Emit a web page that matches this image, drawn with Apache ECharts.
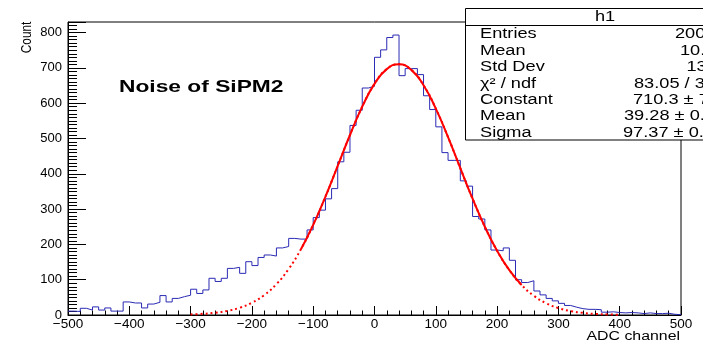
<!DOCTYPE html>
<html><head><meta charset="utf-8">
<script src="https://cdn.jsdelivr.net/npm/echarts@6/dist/echarts.min.js"></script>
<style>html,body{margin:0;padding:0;background:#fff}#c{width:703px;height:342px}</style>
</head><body><div id="c"></div>
<script>
// ---- data ----
const binLow = -500;
const binWidth = 10;
const counts = [
  11, 10, 19, 14, 23, 14, 20, 11, 11, 37,
  34, 34, 20, 31, 36, 55, 37, 47, 52, 56,
  73, 61, 71, 104, 95, 104, 132, 135, 118, 151,
  140, 163, 170, 167, 190, 194, 217, 215, 215, 241,
  276, 297, 329, 358, 434, 461, 537, 580, 643, 648,
  730, 751, 786, 793, 678, 698, 698, 681, 621, 582,
  533, 460, 438, 438, 380, 365, 279, 272, 241, 184,
  182, 190, 155, 100, 92, 97, 68, 57, 47, 40,
  33, 27, 22, 18, 16, 16, 15, 8, 9, 7,
  6, 7, 6, 4, 6, 4, 4, 5, 2, 1
];
const fitX = [-300,-280,-260,-240,-220,-200,-180,-160,-140,-120,-100,-80,-60,-40,-20,0,20,40,
              60,80,100,120,140,160,180,200,220,240,260,280,300,320,340,360,380,400];
const fitY = [1.6,3.3,6.3,11.6,20.5,34.7,56.3,87.5,130.4,186.4,255.4,335.4,422.4,509.9,590.1,654.8,696.5,710.3,
              694.4,650.8,584.8,503.8,416.0,329.4,250.0,181.9,126.9,84.9,54.4,33.4,19.7,11.1,6.0,3.1,1.6,0.7];
const fitRange = [-120, 240];
const xMin = -500, xMax = 500, xStep = 100;
const yMax = 830, yStep = 100, yMinorStep = 10;
const titleText = 'Noise of SiPM2';
const xTitle = 'ADC channel';
const yTitle = 'Count';
const statsTitle = 'h1';
const statsLabels = ['Entries', 'Mean', 'Std Dev', '\u03c7\u00b2 / ndf', 'Constant', 'Mean', 'Sigma'];
const statsValues = ['20000', '10.74', '137.2', '83.05 / 33', '710.3 \u00b1 7.4', '39.28 \u00b1 0.80', '97.37 \u00b1 0.64'];

// ---- build ----
const histPts = counts.map((c, i) => [binLow + i * binWidth, c]);
histPts.push([binLow + counts.length * binWidth, counts[counts.length - 1]]);
const fitAll = fitX.map((x, i) => [x, fitY[i]]);
const fitSolid = fitAll.filter(p => p[0] >= fitRange[0] && p[0] <= fitRange[1]);

const FONT = '"Liberation Sans", Arial, Helvetica, sans-serif';
const valueX = [675, 680, 686.5, 634, 633, 624, 623];
const rowY0 = 34.5, rowDy = 16.4;

const graphic = [
  { type: 'text', x: 119, y: 87, scaleX: 1.38, z: 100,
    style: { text: titleText, font: 'bold 16.5px ' + FONT, fill: '#000', align: 'left', verticalAlign: 'middle' } },
  { type: 'text', x: 26.7, y: 21.7, rotation: Math.PI / 2, scaleY: 1.3, z: 100,
    style: { text: yTitle, font: '11.8px ' + FONT, fill: '#000', align: 'right', verticalAlign: 'middle' } },
  { type: 'text', x: 680, y: 336.5, scaleX: 1.27, z: 100,
    style: { text: xTitle, font: '12.5px ' + FONT, fill: '#000', align: 'right', verticalAlign: 'middle' } },
  { type: 'rect', z: 100, shape: { x: 465.5, y: 8.5, width: 320, height: 131.5 },
    style: { fill: '#fff', stroke: '#000', lineWidth: 1 } },
  { type: 'line', z: 101, shape: { x1: 465.5, y1: 25.5, x2: 800, y2: 25.5 },
    style: { stroke: '#000', lineWidth: 1 } },
  { type: 'text', x: 605, y: 17.5, scaleX: 1.3, z: 102,
    style: { text: statsTitle, font: '14px ' + FONT, fill: '#000', align: 'center', verticalAlign: 'middle' } }
];
statsLabels.forEach((t, k) => {
  graphic.push({ type: 'text', x: 480, y: rowY0 + k * rowDy, scaleX: 1.3, z: 102,
    style: { text: t, font: '14px ' + FONT, fill: '#000', align: 'left', verticalAlign: 'middle' } });
  graphic.push({ type: 'text', x: valueX[k], y: rowY0 + k * rowDy, scaleX: 1.3, z: 102,
    style: { text: statsValues[k], font: '14px ' + FONT, fill: '#000', align: 'left', verticalAlign: 'middle' } });
});

const chart = echarts.init(document.getElementById('c'), null, { renderer: 'canvas' });
chart.setOption({
  animation: false,
  backgroundColor: '#fff',
  grid: { left: 68, right: 22, top: 22, bottom: 27, show: true, borderColor: '#000', borderWidth: 1, backgroundColor: 'transparent' },
  xAxis: {
    type: 'value', min: xMin, max: xMax, interval: xStep,
    axisLine: { show: true, onZero: false, lineStyle: { color: '#000', width: 1 } },
    axisTick: { show: true, inside: true, length: 9, lineStyle: { color: '#000' } },
    minorTick: { show: true, splitNumber: 5, length: 4.5, lineStyle: { color: '#000' } },
    splitLine: { show: false },
    axisLabel: { color: '#000', fontFamily: FONT, fontSize: 13.5, margin: 2,
      showMinLabel: true, showMaxLabel: true,
      formatter: v => String(v).replace('-', '\u2212') }
  },
  yAxis: [{
    type: 'value', min: 0, max: yMax, interval: yStep, position: 'left',
    axisLine: { show: true, onZero: false, lineStyle: { color: '#000', width: 1 } },
    axisTick: { show: true, inside: true, length: 18, lineStyle: { color: '#000' } },
    splitLine: { show: false },
    axisLabel: { color: '#000', fontFamily: FONT, fontSize: 13, margin: 6,
      formatter: v => (v % yStep === 0 ? String(v) : '') }
  }, {
    type: 'value', min: 0, max: yMax, interval: yMinorStep, position: 'left', offset: 0,
    axisLine: { show: false, onZero: false },
    axisTick: { show: true, inside: true, length: 9, lineStyle: { color: '#000' } },
    splitLine: { show: false },
    axisLabel: { show: false }
  }],
  graphic: graphic,
  series: [
    { type: 'line', step: 'end', data: histPts, symbol: 'none', yAxisIndex: 0,
      lineStyle: { color: '#2a2ab4', width: 1 }, z: 3 },
    { type: 'line', smooth: true, data: fitAll, symbol: 'none', yAxisIndex: 0,
      lineStyle: { color: '#ff0000', width: 2, type: [2, 3] }, z: 4 },
    { type: 'line', smooth: true, data: fitSolid, symbol: 'none', yAxisIndex: 0,
      lineStyle: { color: '#ff0000', width: 2 }, z: 5 }
  ]
});
</script></body></html>
